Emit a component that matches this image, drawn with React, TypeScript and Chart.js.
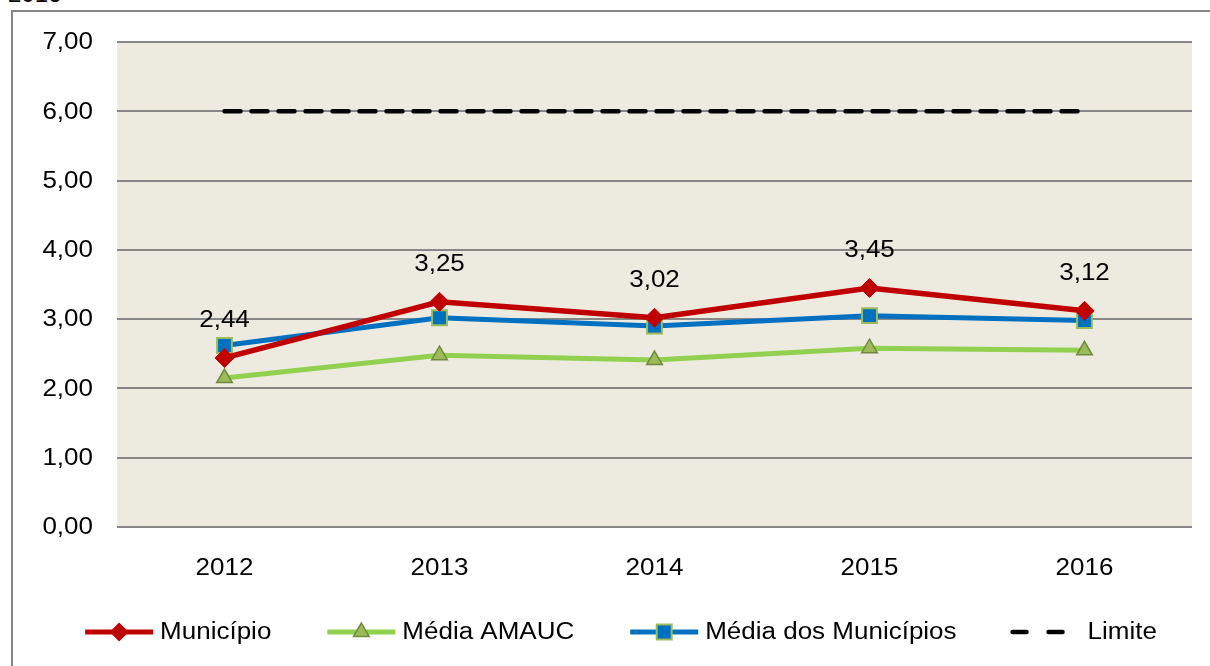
import { useEffect, useRef } from "react";
import { Chart, registerables } from "chart.js";

Chart.register(...registerables);

const years = ["2012", "2013", "2014", "2015", "2016"];
const municipio = [2.44, 3.25, 3.02, 3.45, 3.12];
const mediaAmauc = [2.15, 2.48, 2.41, 2.58, 2.55];
const mediaMunicipios = [2.62, 3.02, 2.9, 3.05, 2.98];
const limite = [6, 6, 6, 6, 6];
const seriesNames = ["Município", "Média AMAUC", "Média dos Municípios", "Limite"];
const yMin = 0;
const yMax = 7;
const yStep = 1;

const FONT = '"Liberation Sans", Arial, sans-serif';
const FS = 23;
const SX = 1.13;
const fmt = (v: number) => v.toFixed(2).replace(".", ",");

const RED = "#C00000";
const GREEN = "#92D050";
const BLUE = "#0070C0";
const OLIVE = "#9BBB59";
const OLIVE_DARK = "#71893F";
const PLOT_BG = "#EDEBE0";
const GRID = "#878787";

function drawText(ctx: CanvasRenderingContext2D, text: string, x: number, y: number, align: CanvasTextAlign) {
  ctx.save();
  ctx.font = `${FS}px ${FONT}`;
  ctx.fillStyle = "#000";
  ctx.textAlign = align;
  ctx.textBaseline = "middle";
  ctx.translate(x, y);
  ctx.scale(SX, 1);
  ctx.fillText(text, 0, 0);
  ctx.restore();
}

function textWidth(ctx: CanvasRenderingContext2D, text: string) {
  ctx.save();
  ctx.font = `${FS}px ${FONT}`;
  const w = ctx.measureText(text).width * SX;
  ctx.restore();
  return w;
}

function drawMarker(ctx: CanvasRenderingContext2D, kind: string, x: number, y: number) {
  ctx.save();
  ctx.setLineDash([]);
  if (kind === "diamond") {
    const r = 9.5;
    ctx.beginPath();
    ctx.moveTo(x - r, y);
    ctx.lineTo(x, y - r);
    ctx.lineTo(x + r, y);
    ctx.lineTo(x, y + r);
    ctx.closePath();
    ctx.fillStyle = RED;
    ctx.fill();
  } else if (kind === "triangle") {
    const r = 9;
    ctx.beginPath();
    ctx.moveTo(x, y - r);
    ctx.lineTo(x + r * 0.866, y + r / 2);
    ctx.lineTo(x - r * 0.866, y + r / 2);
    ctx.closePath();
    ctx.fillStyle = OLIVE;
    ctx.fill();
    ctx.strokeStyle = OLIVE_DARK;
    ctx.lineWidth = 1.5;
    ctx.stroke();
  } else if (kind === "square") {
    const s = 7.5;
    ctx.fillStyle = BLUE;
    ctx.fillRect(x - s, y - s, 2 * s, 2 * s);
    ctx.strokeStyle = OLIVE;
    ctx.lineWidth = 2;
    ctx.strokeRect(x - s, y - s, 2 * s, 2 * s);
  }
  ctx.restore();
}

const plotBgPlugin = {
  id: "plotBg",
  beforeDraw(chart: any) {
    const { ctx, chartArea } = chart;
    ctx.save();
    ctx.fillStyle = PLOT_BG;
    ctx.fillRect(chartArea.left, chartArea.top, chartArea.right - chartArea.left, chartArea.bottom - chartArea.top);
    ctx.restore();
  },
};

const tickLabelsPlugin = {
  id: "tickLabels",
  afterDraw(chart: any) {
    const { ctx, chartArea } = chart;
    const xs = chart.scales.x;
    const ys = chart.scales.y;
    years.forEach((lab, i) => {
      drawText(ctx, lab, xs.getPixelForValue(i), chartArea.bottom + 42, "center");
    });
    for (let v = yMin; v <= yMax; v += yStep) {
      drawText(ctx, fmt(v), chartArea.left - 24, ys.getPixelForValue(v) + 1, "right");
    }
  },
};

const labelsPlugin = {
  id: "valueLabels",
  afterDatasetsDraw(chart: any) {
    const { ctx } = chart;
    const meta = chart.getDatasetMeta(0);
    meta.data.forEach((pt: any, i: number) => {
      drawText(ctx, fmt(municipio[i]), pt.x, pt.y - 37, "center");
    });
  },
};

const legendItems = [
  { name: seriesNames[0], color: RED, marker: "diamond", dashed: false },
  { name: seriesNames[1], color: GREEN, marker: "triangle", dashed: false },
  { name: seriesNames[2], color: BLUE, marker: "square", dashed: false },
  { name: seriesNames[3], color: "#000", marker: "", dashed: true },
];

const legendPlugin = {
  id: "customLegend",
  afterDraw(chart: any) {
    const { ctx } = chart;
    const y = 632;
    const markW = 72;
    const gap = 5;
    const itemGap = 54;
    const widths = legendItems.map((it) => textWidth(ctx, it.name));
    const total = widths.reduce((a, w) => a + markW + gap + w, 0) + itemGap * (legendItems.length - 1);
    let x = 620 - total / 2;
    legendItems.forEach((it, i) => {
      ctx.save();
      ctx.strokeStyle = it.color;
      if (it.dashed) {
        ctx.lineWidth = 4.5;
        ctx.lineCap = "round";
        ctx.setLineDash([14, 22]);
        ctx.beginPath();
        ctx.moveTo(x + 2, y);
        ctx.lineTo(x + 56, y);
        ctx.stroke();
      } else {
        ctx.lineWidth = 5;
        ctx.lineCap = "butt";
        ctx.beginPath();
        ctx.moveTo(x + 2, y);
        ctx.lineTo(x + markW - 2, y);
        ctx.stroke();
        drawMarker(ctx, it.marker, x + markW / 2, y);
      }
      ctx.restore();
      drawText(ctx, it.name, x + markW + gap, y + 1, "left");
      x += markW + gap + widths[i] + itemGap;
    });
  },
};

export default function App() {
  const ref = useRef<HTMLCanvasElement | null>(null);

  useEffect(() => {
    if (!ref.current) return;
    const chart = new Chart(ref.current, {
      type: "line",
      data: {
        labels: years,
        datasets: [
          {
            label: seriesNames[0],
            data: municipio,
            borderColor: RED,
            backgroundColor: RED,
            borderWidth: 5.5,
            pointStyle: "rectRot",
            pointRadius: 9.5,
            pointBackgroundColor: RED,
            pointBorderColor: RED,
            pointBorderWidth: 1,
            tension: 0,
          },
          {
            label: seriesNames[1],
            data: mediaAmauc,
            borderColor: GREEN,
            backgroundColor: GREEN,
            borderWidth: 5,
            pointStyle: "triangle",
            pointRadius: 9,
            pointBackgroundColor: OLIVE,
            pointBorderColor: OLIVE_DARK,
            pointBorderWidth: 1.5,
            tension: 0,
          },
          {
            label: seriesNames[2],
            data: mediaMunicipios,
            borderColor: BLUE,
            backgroundColor: BLUE,
            borderWidth: 5,
            pointStyle: "rect",
            pointRadius: 10.5,
            pointBackgroundColor: BLUE,
            pointBorderColor: OLIVE,
            pointBorderWidth: 2,
            tension: 0,
          },
          {
            label: seriesNames[3],
            data: limite,
            borderColor: "#000",
            backgroundColor: "#000",
            borderWidth: 4.5,
            borderDash: [16, 11],
            borderCapStyle: "round",
            pointRadius: 0,
            tension: 0,
          },
        ],
      },
      options: {
        animation: false,
        responsive: false,
        devicePixelRatio: 1,
        layout: { padding: { left: 0, right: 18, top: 42, bottom: 79 } },
        plugins: {
          legend: { display: false },
          tooltip: { enabled: false },
          title: { display: false },
        },
        scales: {
          x: {
            offset: true,
            grid: { display: false, drawTicks: false },
            border: { display: false },
            ticks: { display: false },
            afterFit: (s: any) => {
              s.height = 60;
            },
          },
          y: {
            min: yMin,
            max: yMax,
            grid: { color: GRID, lineWidth: 2, drawTicks: false },
            border: { display: false },
            ticks: { display: false, stepSize: yStep },
            afterFit: (s: any) => {
              s.width = 117;
            },
          },
        },
      },
      plugins: [plotBgPlugin, tickLabelsPlugin, labelsPlugin, legendPlugin],
    });
    return () => chart.destroy();
  }, []);

  return (
    <div style={{ position: "fixed", left: 0, top: 0, width: 1210, height: 666, background: "#fff", overflow: "hidden" }}>
      <div
        style={{
          position: "absolute",
          left: 8,
          top: -18,
          font: `24px ${FONT}`,
          lineHeight: "24px",
          color: "#000",
        }}
      >
        2016
      </div>
      <div
        style={{
          position: "absolute",
          left: 11,
          top: 10,
          width: 1300,
          height: 800,
          borderLeft: "2px solid #868686",
          borderTop: "2px solid #868686",
        }}
      />
      <canvas ref={ref} width={1210} height={666} style={{ position: "absolute", left: 0, top: 0 }} />
    </div>
  );
}
